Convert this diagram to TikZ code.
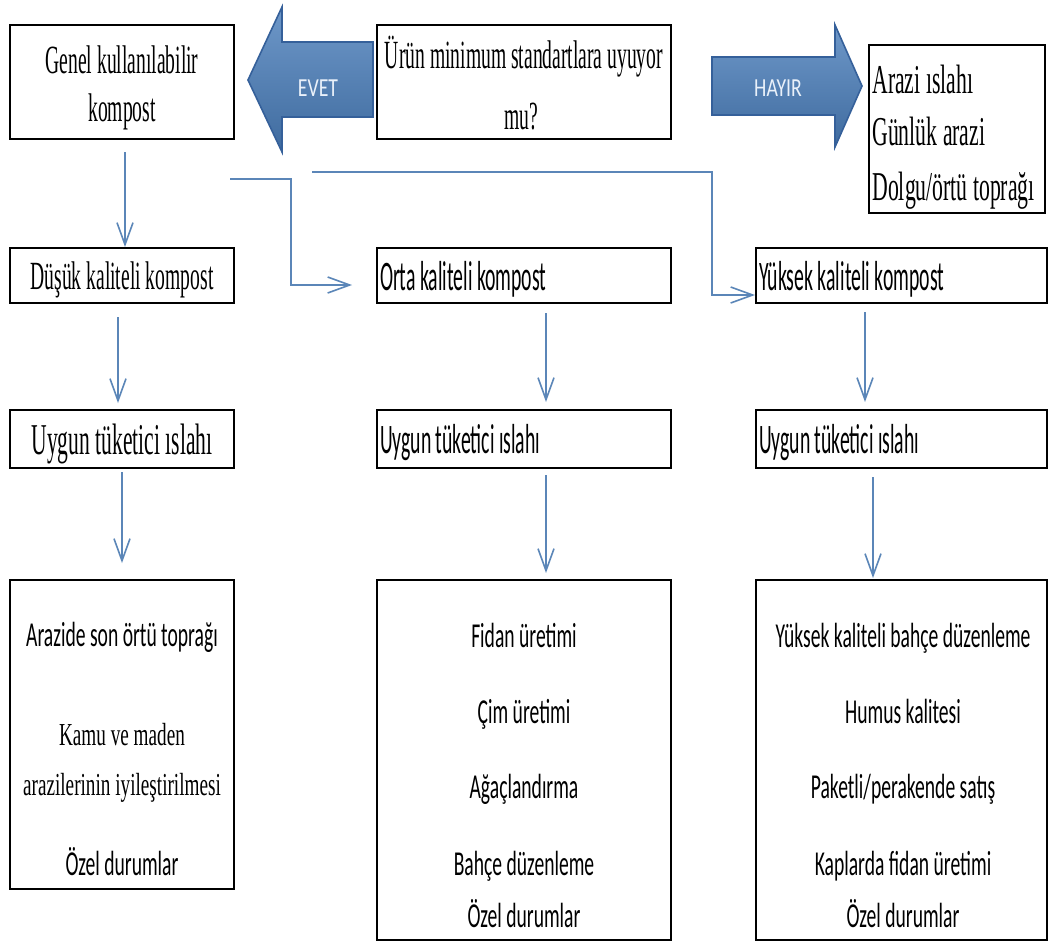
\documentclass[tikz,border=0pt]{standalone}
\usepackage{fontspec}
\usetikzlibrary{arrows.meta}
\newfontfamily\ustserif[FakeStretch=0.49]{Liberation Serif}
\newfontfamily\araziserif[FakeStretch=0.53]{Liberation Serif}
\newfontfamily\altserif[FakeStretch=0.6]{Liberation Serif}
\newfontfamily\kutusans[FakeStretch=0.47]{Carlito}
\newfontfamily\altsans[FakeStretch=0.56]{Carlito}
\newfontfamily\oksans[FakeStretch=0.76]{Carlito}
\definecolor{okmavi}{HTML}{4A7EBB}
\definecolor{okkenar}{HTML}{35609A}
\definecolor{baglanti}{HTML}{5B86B8}
\definecolor{okyazi}{HTML}{EAF1FA}

\begin{document}
\begin{tikzpicture}[x=0.5pt, y=-0.5pt,
    kutu/.style={draw, line width=0.9pt, inner sep=0pt, outer sep=0pt},
    solkutu/.style={kutu, minimum width=112pt, text depth=0pt},
    genis/.style={kutu, minimum width=147pt},
    sagkutu/.style={kutu, minimum width=145.5pt},
    solsatir/.style={kutu, text width=#1, inner xsep=1.5pt, align=flush left, text depth=0pt},
    serifyazi/.style={font=\ustserif\fontsize{20}{22}\selectfont},
    sansyazi/.style={font=\kutusans\fontsize{21}{23}\selectfont},
    ustsatir/.style={anchor=base, inner xsep=0pt, font=\ustserif\fontsize{20}{22}\selectfont},
    arazisatir/.style={anchor=base west, inner xsep=0pt, font=\araziserif\fontsize{20.5}{22}\selectfont},
    altyazi/.style={anchor=base, font=\altsans\fontsize{17.5}{19}\selectfont},
    bag/.style={draw=baglanti, line width=0.8pt, -{Straight Barb[length=11pt, width=8pt]}},
    okstil/.style={top color=okmavi!80!white, bottom color=okmavi!85!black, draw=okkenar, line width=0.8pt},
    okyazisi/.style={text=okyazi, font=\oksans\fontsize{13}{15}\selectfont}]
  \path[fill=white, use as bounding box] (0,0) rectangle (1049,942);
  %
  % block arrows
  \path[okstil] (373,42) -- (282,42) -- (282,7) -- (248,80) -- (282,152) -- (282,117) -- (373,117) -- cycle;
  \node[okyazisi] (evet) at (318,88) {EVET};
  \path[okstil] (712,57) -- (835,57) -- (835,25) -- (862,86) -- (835,147) -- (835,115) -- (712,115) -- cycle;
  \node[okyazisi] (hayir) at (778,88) {HAYIR};
  %
  % top row
  \node[solkutu, minimum height=57pt] (genel) at (122,82) {};
  \node[ustsatir] (g1) at (122,73) {Genel kullanılabilir};
  \node[ustsatir] (g2) at (122,121) {kompost};
  \node[genis, minimum height=57pt] (soru) at (524,82) {};
  \node[ustsatir] (s1) at (524,68) {Ürün minimum standartlara uyuyor};
  \node[ustsatir] (s2) at (521,129) {mu?};
  \node[kutu, minimum width=88pt, minimum height=84pt] (arazi) at (957,129) {};
  \node[arazisatir] (r1) at (872,93) {Arazi ıslahı};
  \node[arazisatir] (r2) at (872,145) {Günlük arazi};
  \node[arazisatir] (r3) at (872,200) {Dolgu/örtü toprağı};
  %
  % quality row
  \node[solkutu, minimum height=27.5pt, serifyazi] (dusuk) at (122,275.5) {Düşük kaliteli kompost};
  \node[solsatir=144pt, minimum height=27.5pt, sansyazi] (orta) at (524,275.5) {Orta kaliteli kompost};
  \node[solsatir=142.5pt, minimum height=27.5pt, sansyazi] (yuksek) at (901.5,275.5) {Yüksek kaliteli kompost};
  %
  % consumer row
  \node[solkutu, minimum height=29pt, font=\ustserif\fontsize{22}{24}\selectfont]
    (uygunA) at (122,439) {Uygun tüketici ıslahı};
  \node[solsatir=144pt, minimum height=29pt, sansyazi] (uygunB) at (524,439) {Uygun tüketici ıslahı};
  \node[solsatir=142.5pt, minimum height=29pt, sansyazi] (uygunC) at (901.5,439) {Uygun tüketici ıslahı};
  %
  % use boxes
  \node[solkutu, minimum height=154.5pt] (sonA) at (122,734.5) {};
  \node[genis, minimum height=180pt] (sonB) at (524,760) {};
  \node[sagkutu, minimum height=180pt] (sonC) at (901.5,760) {};
  %
  \node[altyazi] (a1) at (122,646) {Arazide son örtü toprağı};
  \node[anchor=base, font=\altserif\fontsize{16}{18}\selectfont] (a2) at (122,745) {Kamu ve maden};
  \node[anchor=base, font=\altserif\fontsize{16}{18}\selectfont] (a3) at (122,795) {arazilerinin iyileştirilmesi};
  \node[altyazi] (a4) at (122,875) {Özel durumlar};
  %
  \foreach \metin/\yy [count=\i] in {Fidan üretimi/647, Çim üretimi/723, Ağaçlandırma/798,
      Bahçe düzenleme/875, Özel durumlar/927}
    \node[altyazi] (b\i) at (524,\yy) {\metin};
  \foreach \metin/\yy [count=\i] in {Yüksek kaliteli bahçe düzenleme/647, Humus kalitesi/723,
      {Paketli/perakende satış}/798, Kaplarda fidan üretimi/875, Özel durumlar/927}
    \node[altyazi] (c\i) at (903,\yy) {\metin};
  %
  % connectors
  \draw[bag, shorten <=6.5pt, shorten >=0.5pt] ([xshift=1.5pt]genel.south) -- ([xshift=1.5pt]dusuk.north);
  \draw[bag, shorten <=7pt, shorten >=3.5pt] ([xshift=-2pt]dusuk.south) -- ([xshift=-2pt]uygunA.north);
  \draw[bag, shorten <=2pt, shorten >=8.5pt] (uygunA.south) -- (sonA.north);
  \draw[bag, shorten <=5pt, shorten >=4pt] ([xshift=11pt]orta.south) -- ([xshift=11pt]uygunB.north);
  \draw[bag, shorten <=3.5pt, shorten >=3.5pt] ([xshift=11pt]uygunB.south) -- ([xshift=11pt]sonB.north);
  \draw[bag, shorten <=4.5pt, shorten >=4pt] ([xshift=-18.25pt]yuksek.south) -- ([xshift=-18.25pt]uygunC.north);
  \draw[bag, shorten <=4.5pt, shorten >=1pt] ([xshift=-14.25pt]uygunC.south) -- ([xshift=-14.25pt]sonC.north);
  %
  \coordinate (dalA) at (230,179);
  \coordinate (dalB) at (312,172);
  \draw[bag, shorten >=12.5pt] (dalA) -- ++(61,0) |- ([yshift=-4.75pt]orta.west);
  \draw[bag, shorten >=0.5pt] (dalB) -- ++(400,0) |- ([yshift=-9.75pt]yuksek.west);
\end{tikzpicture}
\end{document}
